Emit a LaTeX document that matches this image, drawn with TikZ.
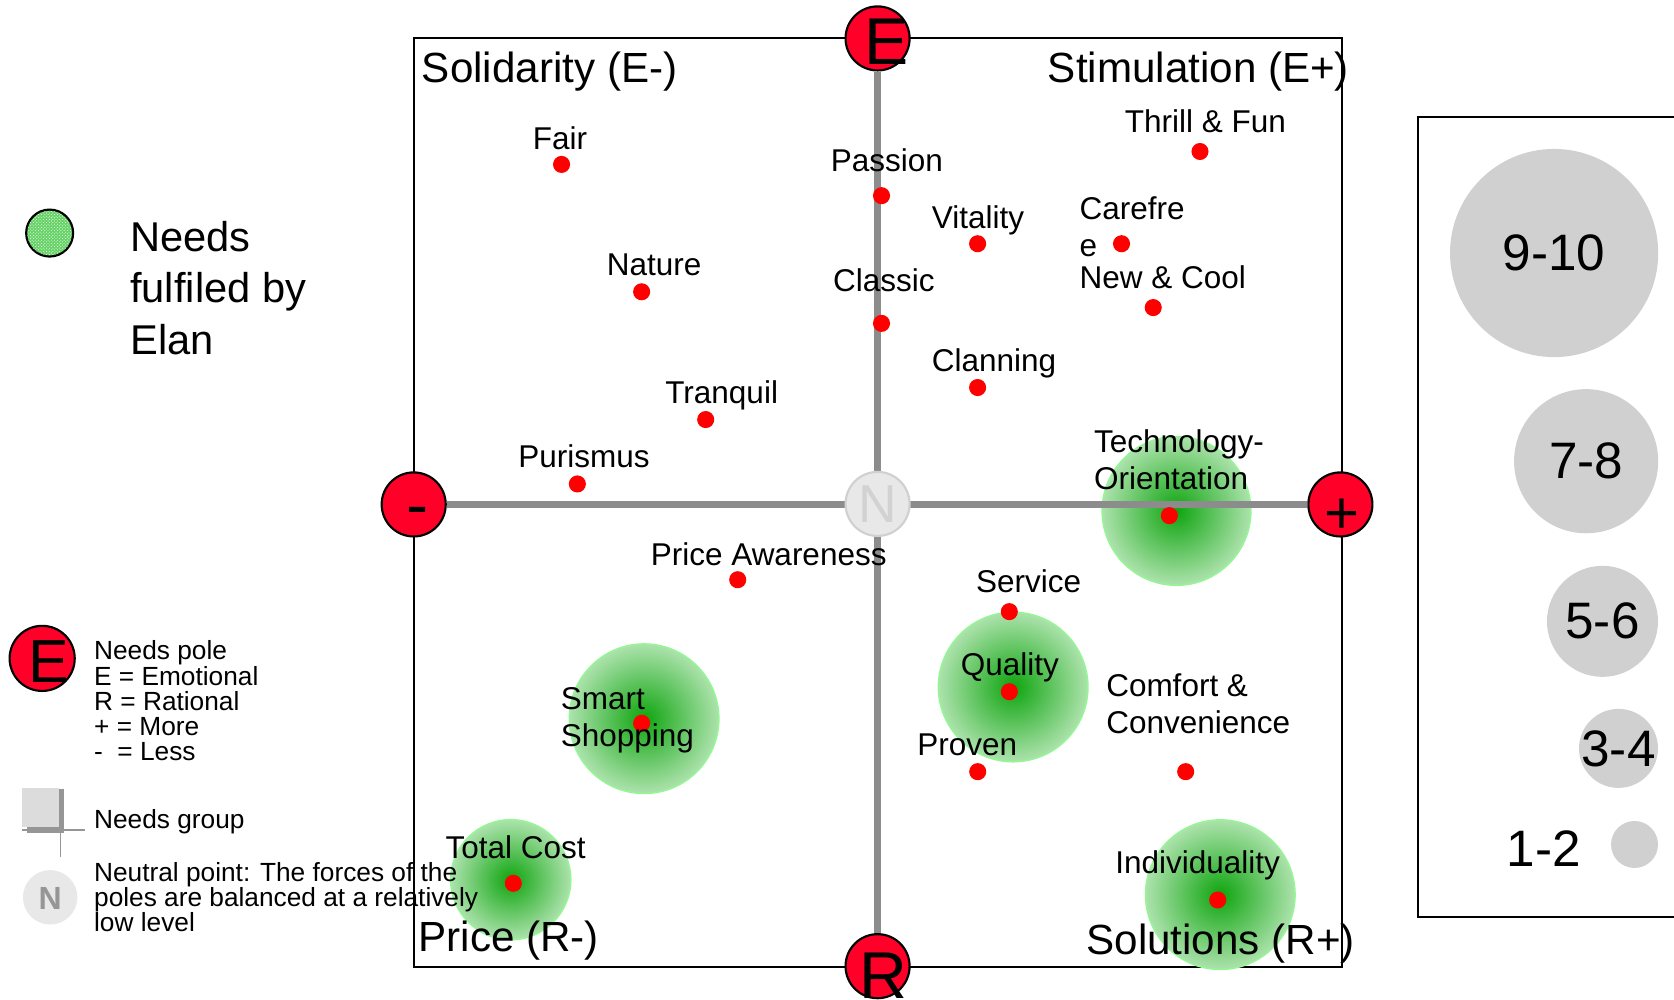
\documentclass[tikz,border=0pt]{standalone}
\usepackage{fontspec}
\setmainfont{Liberation Sans}
\usetikzlibrary{patterns}

\definecolor{polered}{RGB}{255,0,40}
\definecolor{axisgray}{RGB}{140,140,140}
\definecolor{bubblegray}{RGB}{208,208,208}
\definecolor{neutralgray}{RGB}{232,232,232}
\definecolor{neutralrim}{RGB}{208,208,208}
\definecolor{neutraltext}{RGB}{210,210,210}
\definecolor{legendN}{RGB}{150,150,150}
\definecolor{groupgray}{RGB}{220,220,220}
\definecolor{shadowgray}{RGB}{150,150,150}
\definecolor{fulfilgreen}{RGB}{15,165,15}
\definecolor{fulfillight}{RGB}{172,226,172}
\definecolor{fulfilrim}{RGB}{150,245,150}
\definecolor{legendgreen}{RGB}{100,210,100}

\tikzset{
  pole/.style={circle,draw,line width=2pt,fill=polered,minimum size=60pt,inner sep=0pt},
  poleletter/.style={anchor=base,inner sep=0pt,font=\fontsize{62}{62}\selectfont},
  needdot/.style={circle,fill=red,minimum size=16pt,inner sep=0pt},
  needlabel/.style={anchor=base,inner sep=0pt,font=\fontsize{29.5}{34.5}\selectfont},
  needlines/.style={anchor=base west,inner sep=0pt,align=left,font=\fontsize{29.5}{34.5}\selectfont},
  quadlabel/.style={inner sep=0pt,font=\fontsize{39.5}{45}\selectfont},
  fulfilled/.style={shading=radial,inner color=fulfilgreen,outer color=fulfillight,draw=fulfilrim,line width=1.5pt},
  axis/.style={axisgray,line width=7pt},
  legendtext/.style={anchor=base west,inner sep=0pt,align=left,font=\fontsize{24.6}{23.7}\selectfont},
  sizebubble/.style={circle,fill=bubblegray,inner sep=0pt},
  sizelabel/.style={inner sep=0pt,font=\fontsize{48}{48}\selectfont}
}

\begin{document}
\begin{tikzpicture}[x=1pt,y=-1pt]
  \useasboundingbox (0,0) rectangle (1568,936);

  % quadrant frame
  \draw[line width=2pt] (387.5,36) rectangle (1257,906);

  % needs fulfilled by Elan
  \shade[fulfilled] (1102,478.6) circle (69.6);
  \shade[fulfilled] (949,643.5) circle (70);
  \shade[fulfilled] (603.3,673.2) circle (70);
  \shade[fulfilled] (478.4,824) circle (56.2);
  \shade[fulfilled] (1143,838) circle (70);

  % poles and axes
  \node[pole] (E) at (822,36) {};
  \node[pole] (R) at (822,905) {};
  \node[pole] (minus) at (387.5,472.5) {};
  \node[pole] (plus) at (1255.5,472.5) {};
  \draw[axis] (minus) -- (plus);
  \draw[axis] (E) -- (R);
  \node[circle,draw=neutralrim,line width=2pt,fill=neutralgray,minimum size=60pt,inner sep=0pt,
        text=neutraltext,font=\fontsize{50}{50}\selectfont] (N) at (822,472) {N};
  \node[poleletter] at (830,60.8) {E};
  \node[poleletter] at (827.4,935.5) {R};
  \node[poleletter] at (390.7,494) {-};
  \node[poleletter,font=\fontsize{56}{56}\selectfont] at (1257,499.3) {+};

  % quadrant names
  \node[quadlabel,anchor=base west] at (395,77.6) {Solidarity (E-)};
  \node[quadlabel,anchor=base east] at (1263.8,77.2) {Stimulation (E+)};
  \node[quadlabel,anchor=base west] at (391.8,891.4) {Price (R-)};
  \node[quadlabel,anchor=base east] at (1269.2,894.5) {Solutions (R+)};

  % needs
  \foreach \name/\x/\y in {fair/526/154, nature/601/273.3, tranquil/661/393, purismus/540.8/453.3,
      passion/825.7/183.3, classic/825.7/302.9, vitality/915.7/228.3, carefree/1050.5/228.3,
      thrill/1124/141.9, newcool/1080.2/288.1, clanning/915.7/363, tech/1095.3/483,
      priceaw/691/543, service/945.4/572.9, quality/945.4/647.9, proven/915.8/722.8,
      comfort/1110.6/722.8, smart/601/677.5, totalcost/480.8/827.4, individ/1140.6/843}
    \node[needdot] (\name) at (\x,\y) {};

  \node[needlabel] at (524.5,139.8) {Fair};
  \node[needlabel] at (612.8,258.2) {Nature};
  \node[needlabel] at (676,378) {Tranquil};
  \node[needlabel] at (547,437.5) {Purismus};
  \node[needlabel] at (830.7,160.5) {Passion};
  \node[needlabel] at (828,273) {Classic};
  \node[needlabel] at (916,213.6) {Vitality};
  \node[needlines] at (1011,239.8) {Carefre\\e};
  \node[needlabel] at (1129,124.2) {Thrill \& Fun};
  \node[needlines] at (1011,270.4) {New \& Cool};
  \node[needlabel] at (931,348.3) {Clanning};
  \node[needlines] at (1024.6,458.3) {Technology-\\Orientation};
  \node[needlabel] at (720,529.5) {Price Awareness};
  \node[needlabel] at (963.5,554.8) {Service};
  \node[needlabel] at (946,632.3) {Quality};
  \node[needlabel] at (906,707.2) {Proven};
  \node[needlines] at (1036,686.9) {Comfort \&\\Convenience};
  \node[needlines] at (525.2,698.8) {Smart\\Shopping};
  \node[needlabel] at (482.9,804) {Total Cost};
  \node[needlabel] at (1121.7,818) {Individuality};

  % left legend
  \filldraw[fill=legendgreen,line width=2pt] (46.5,218.3) circle (22);
  \fill[pattern=crosshatch dots,pattern color=white] (46.5,218.3) circle (21);
  \node[anchor=base west,inner sep=0pt,align=left,font=\fontsize{39}{48.2}\selectfont]
    at (121.8,331.6) {Needs\\fulfiled by\\Elan};

  \node[pole,minimum size=61pt] (legendpole) at (39.5,616.7) {};
  \node[poleletter,font=\fontsize{57}{57}\selectfont] at (45.3,639.4) {E};
  \node[legendtext] at (88,712.8) {Needs pole\\E = Emotional\\R = Rational\\+ = More\\-\ \ = Less};

  \fill[groupgray] (20.9,738.4) rectangle (55.6,775);
  \fill[shadowgray] (55.6,739.3) rectangle (60.3,780.6);
  \fill[shadowgray] (25.6,775) rectangle (60.3,780.6);
  \draw[shadowgray,line width=1.5pt] (56.8,740) -- (56.8,802.4);
  \draw[shadowgray,line width=1.5pt] (20.9,777.5) -- (79.6,777.5);
  \node[legendtext] at (88,775.9) {Needs group};

  \node[circle,fill=neutralgray,minimum size=51pt,inner sep=0pt] (legendN) at (47,840.5) {};
  \node[anchor=base,inner sep=0pt,text=legendN,font=\bfseries\fontsize{30}{30}\selectfont] at (47,851.8) {N};
  \node[legendtext,font=\fontsize{24.6}{23.5}\selectfont] at (88,872.7)
    {Neutral point: The forces of the\\poles are balanced at a relatively\\low level};

  % importance legend
  \draw[line width=2pt] (1568,109.3) -- (1328.5,109.3) -- (1328.5,859) -- (1568,859);
  \node[sizebubble,minimum size=195pt] (b910) at (1455.7,237) {};
  \node[sizebubble,minimum size=135pt] (b78) at (1485.7,432) {};
  \node[sizebubble,minimum size=104pt] (b56) at (1501,582) {};
  \node[sizebubble,minimum size=74pt] (b34) at (1516,701) {};
  \node[sizebubble,minimum size=44pt] (b12) at (1531,791) {};
  \node[sizelabel] at (b910) {9-10};
  \node[sizelabel] at (b78) {7-8};
  \node[sizelabel] at (b56) {5-6};
  \node[sizelabel] at (b34) {3-4};
  \node[sizelabel,anchor=base] at (1446,812) {1-2};
\end{tikzpicture}
\end{document}
